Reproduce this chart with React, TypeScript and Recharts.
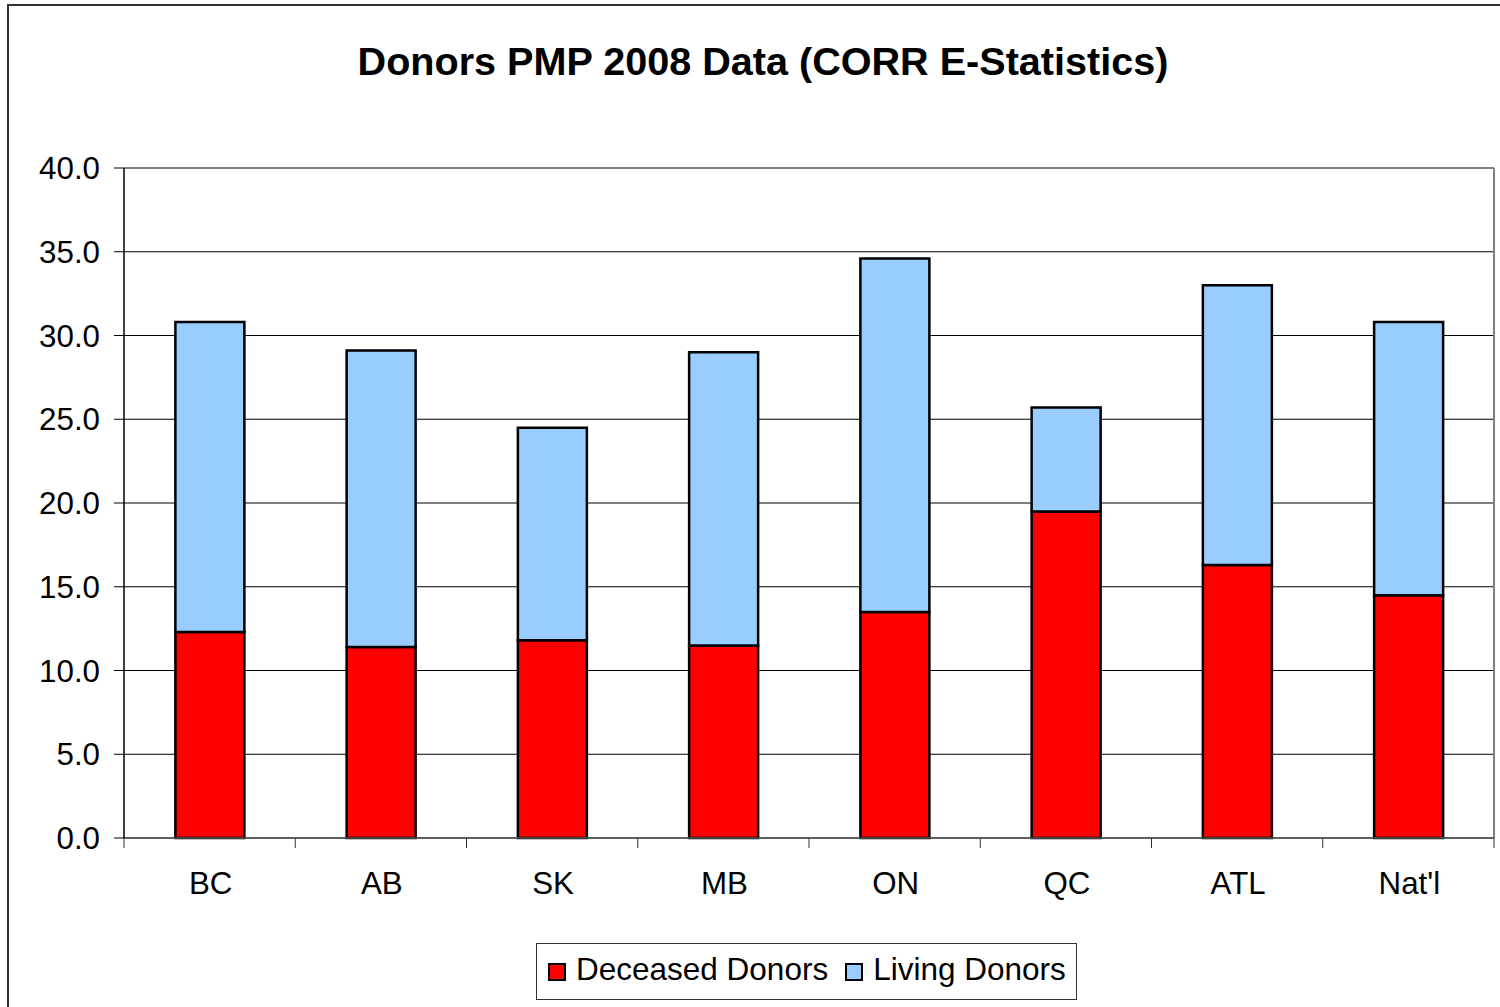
import React from 'react';
import { BarChart, Bar, XAxis, YAxis, CartesianGrid, Legend, ReferenceLine } from 'recharts';

const regions = ['BC', 'AB', 'SK', 'MB', 'ON', 'QC', 'ATL', "Nat'l"];
const deceased = [12.3, 11.4, 11.8, 11.5, 13.5, 19.5, 16.3, 14.5];
const living = [18.5, 17.7, 12.7, 17.5, 21.1, 6.2, 16.7, 16.3];
const yTicks = [0, 5, 10, 15, 20, 25, 30, 35, 40];
const title = 'Donors PMP 2008 Data (CORR E-Statistics)';
const seriesNames = ['Deceased Donors', 'Living Donors'];
const colors = ['#FF0000', '#99CCFF'];

const data = regions.map((r, i) => ({ region: r, deceased: deceased[i], living: living[i] }));

const FONT = "'Liberation Sans', Arial, sans-serif";
const X_TICK_SIZE = 10;
const X_TICK_MARGIN = 24;

const CategoryTick = (props: any) => {
  const { x, y, payload, index, visibleTicksCount } = props;
  const half = payload && payload.offset ? payload.offset : 0;
  const axisY = y - X_TICK_MARGIN - X_TICK_SIZE;
  const isLast = index === visibleTicksCount - 1;
  return (
    <g>
      <line x1={x - half} x2={x - half} y1={axisY} y2={axisY + X_TICK_SIZE} stroke="#333" strokeWidth={1} />
      {isLast && (
        <line x1={x + half} x2={x + half} y1={axisY} y2={axisY + X_TICK_SIZE} stroke="#333" strokeWidth={1} />
      )}
      <text x={x + 1} y={y} dy="0.71em" textAnchor="middle" fill="#000" fontSize={31.3} fontFamily={FONT}>
        {payload.value}
      </text>
    </g>
  );
};

const renderLegend = (props: any) => {
  const payload = props.payload || [];
  return (
    <div
      style={{
        boxSizing: 'border-box',
        width: 541,
        height: 57,
        border: '1px solid #333',
        background: '#fff',
        display: 'flex',
        flexWrap: 'nowrap',
        alignItems: 'center',
        paddingLeft: 11,
        paddingBottom: 5,
        fontFamily: FONT,
        fontSize: 31.5,
        color: '#000',
        whiteSpace: 'nowrap',
        overflow: 'visible',
      }}
    >
      {payload.map((entry: any, i: number) => (
        <div key={i} style={{ display: 'flex', alignItems: 'center', marginRight: 17, flexShrink: 0 }}>
          <div
            style={{
              boxSizing: 'border-box',
              width: 18,
              height: 18,
              background: entry.color,
              border: '2px solid #000',
              marginRight: 10,
              marginTop: 6,
              flexShrink: 0,
            }}
          />
          <span style={{ lineHeight: '34px', whiteSpace: 'nowrap' }}>{entry.value}</span>
        </div>
      ))}
    </div>
  );
};

export default function App() {
  return (
    <div
      style={{
        position: 'fixed',
        left: 0,
        top: 0,
        width: 1500,
        height: 1007,
        overflow: 'hidden',
        background: '#fff',
        fontFamily: FONT,
      }}
    >
      <div
        style={{
          position: 'absolute',
          left: 7,
          top: 4,
          width: 1540,
          height: 1040,
          border: '2px solid #333',
          boxSizing: 'border-box',
        }}
      />
      <div
        style={{
          position: 'absolute',
          left: 263,
          top: 41,
          width: 1000,
          textAlign: 'center',
          fontSize: 39.6,
          lineHeight: '40px',
          fontWeight: 'bold',
          color: '#000',
          fontFamily: FONT,
        }}
      >
        {title}
      </div>
      <div style={{ position: 'absolute', left: 0, top: 0 }}>
        <BarChart
          width={1500}
          height={1007}
          data={data}
          margin={{ top: 168, right: 6, bottom: 109, left: 0 }}
          barCategoryGap="30%"
        >
          <CartesianGrid vertical={false} stroke="#000" strokeWidth={1} />
          <CartesianGrid
            horizontal={false}
            stroke="#808080"
            strokeWidth={2}
            verticalCoordinatesGenerator={({ offset }: any) => [offset.left + offset.width]}
          />
          <XAxis
            dataKey="region"
            height={60}
            axisLine={{ stroke: '#555', strokeWidth: 1.5 }}
            tickLine={false}
            tickSize={X_TICK_SIZE}
            tickMargin={X_TICK_MARGIN}
            interval={0}
            tick={<CategoryTick />}
          />
          <YAxis
            width={124}
            domain={[0, 40]}
            ticks={yTicks}
            interval={0}
            tickFormatter={(v: number) => v.toFixed(1)}
            tickSize={10}
            tickMargin={14}
            axisLine={{ stroke: '#000', strokeWidth: 1.5 }}
            tickLine={{ stroke: '#000', strokeWidth: 1 }}
            tick={{ fill: '#000', fontSize: 31.3, fontFamily: FONT }}
          />
          <ReferenceLine y={40} stroke="#808080" strokeWidth={2} />
          <Bar
            dataKey="deceased"
            name={seriesNames[0]}
            stackId="a"
            fill={colors[0]}
            stroke="#000"
            strokeWidth={2.5}
            isAnimationActive={false}
          />
          <Bar
            dataKey="living"
            name={seriesNames[1]}
            stackId="a"
            fill={colors[1]}
            stroke="#000"
            strokeWidth={2.5}
            isAnimationActive={false}
          />
          <Legend
            verticalAlign="middle"
            align="center"
            layout="horizontal"
            content={renderLegend}
            wrapperStyle={{ left: 536, top: 943, width: 541, height: 57 }}
          />
        </BarChart>
      </div>
    </div>
  );
}
